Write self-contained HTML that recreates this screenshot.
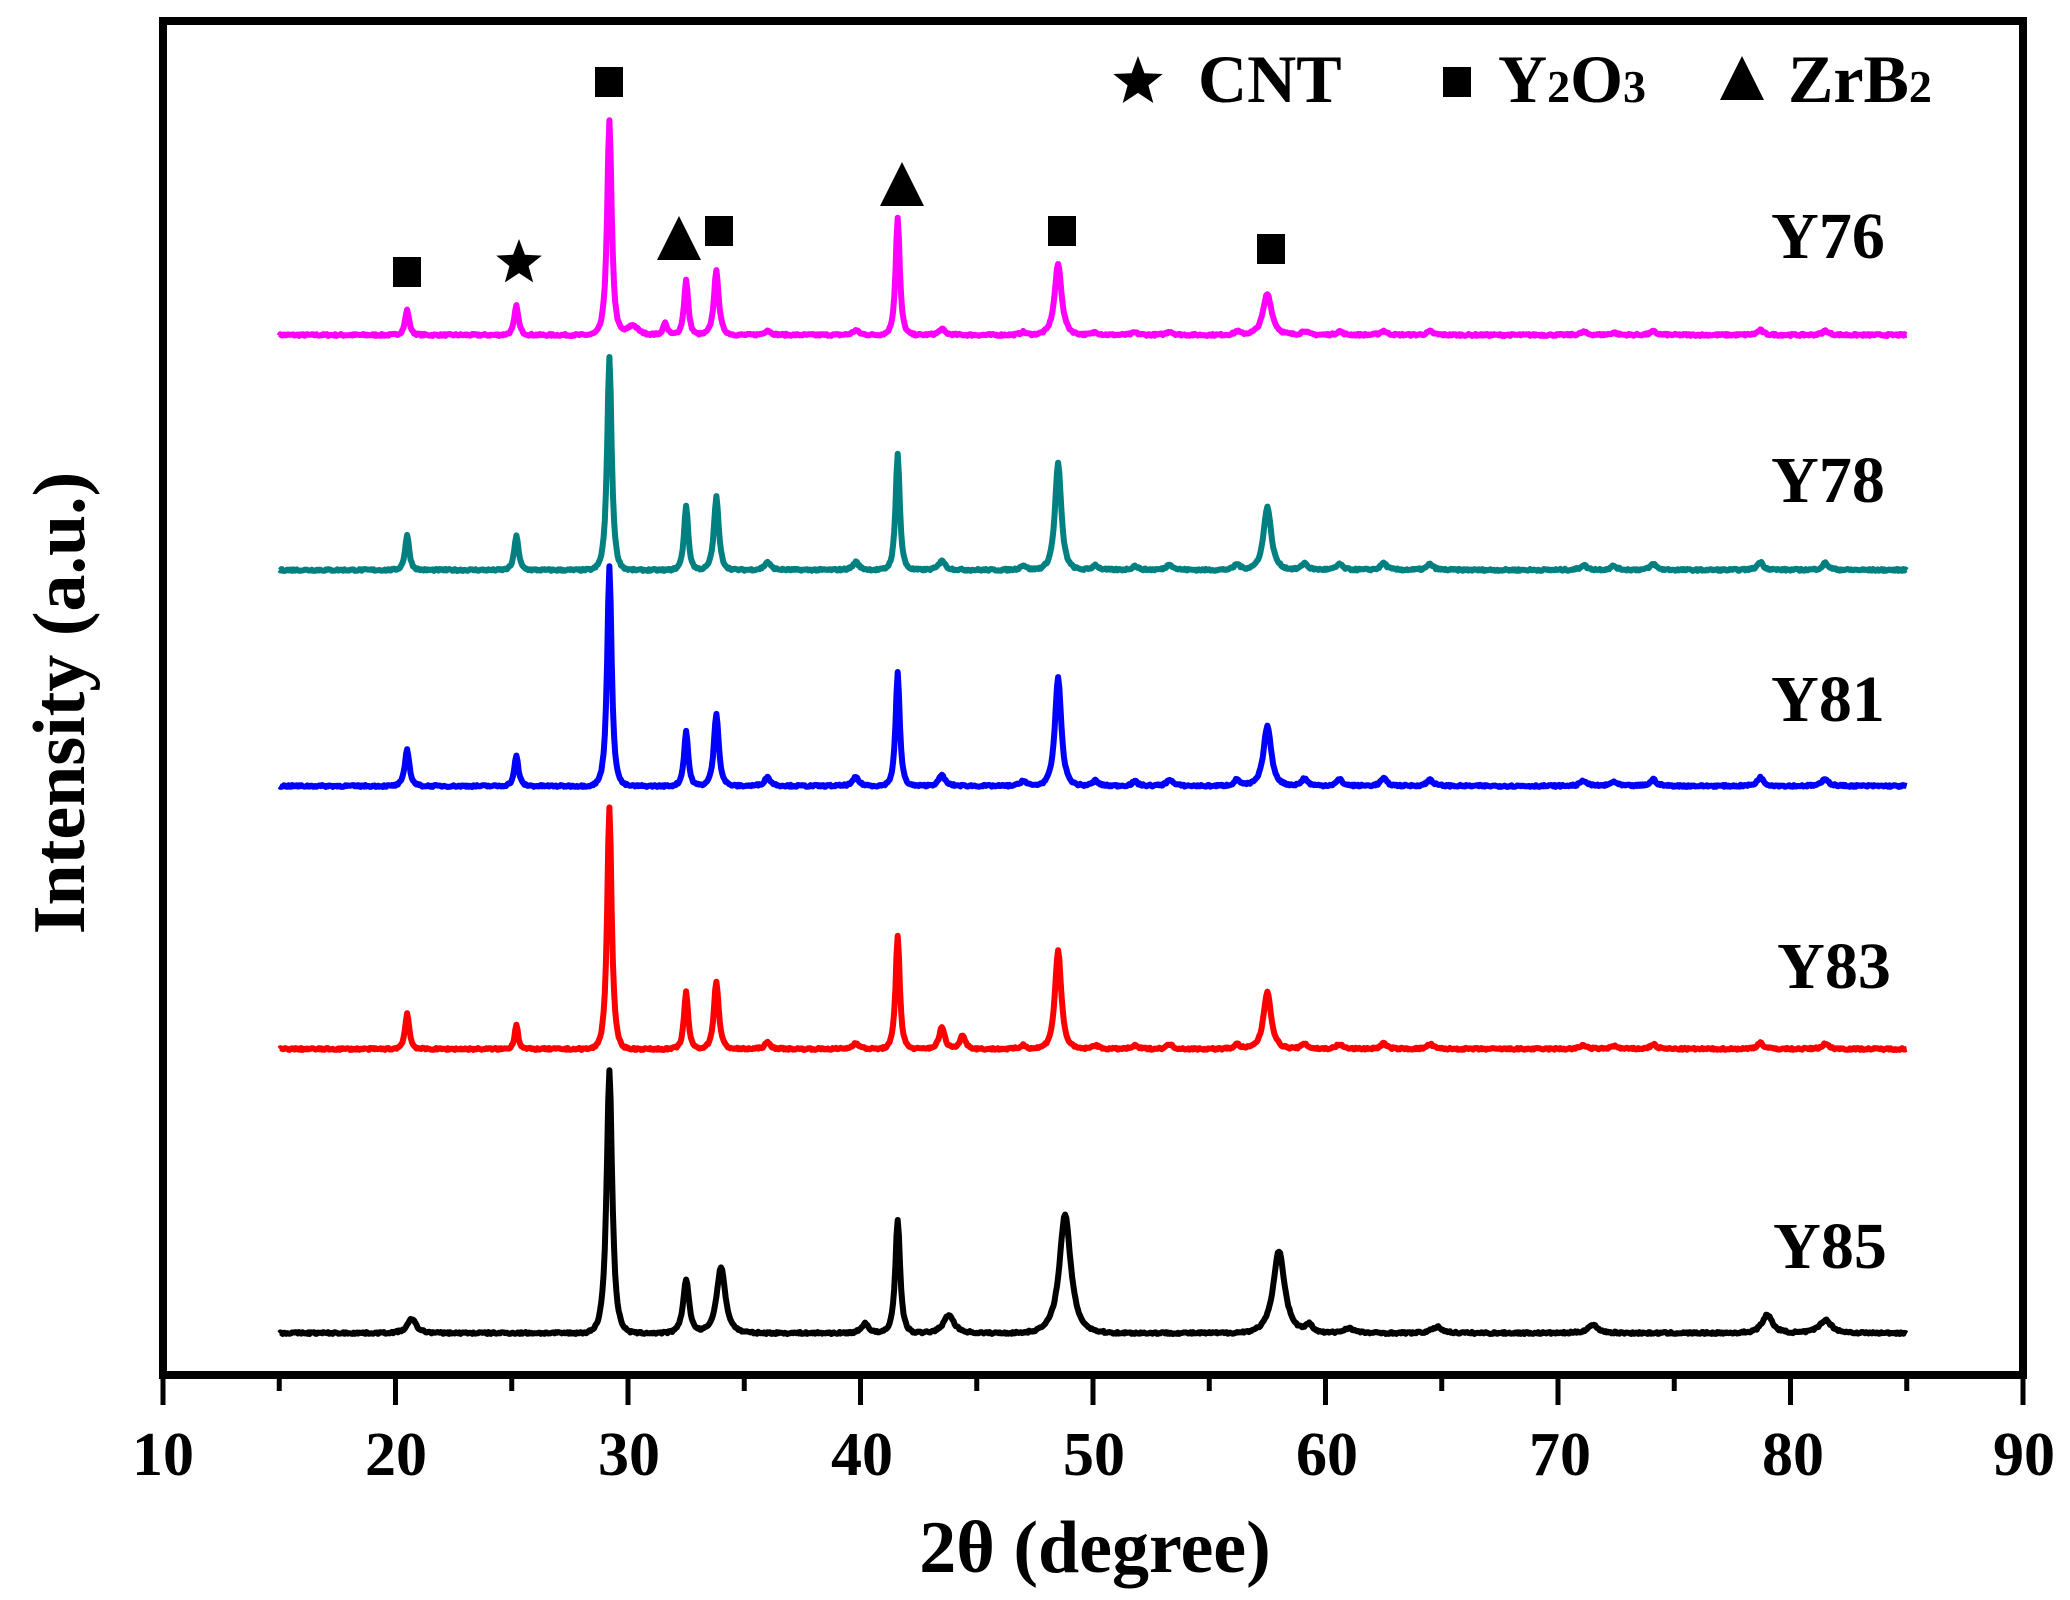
<!DOCTYPE html>
<html><head><meta charset="utf-8"><style>
html,body{margin:0;padding:0;background:#fff;width:2070px;height:1600px;overflow:hidden}
text{font-family:"Liberation Serif",serif;font-weight:bold;fill:#000}
</style></head><body>
<svg id="s" width="2070" height="1600" viewBox="0 0 2070 1600" xmlns="http://www.w3.org/2000/svg">
<rect x="163" y="21" width="1860" height="1354" fill="none" stroke="#000" stroke-width="8"/>
<g id="ticks" stroke="#000" stroke-width="5"></g>
<g font-size="62" text-anchor="middle">
<text x="163" y="1475">10</text><text x="396" y="1475">20</text><text x="629" y="1475">30</text><text x="862" y="1475">40</text><text x="1094" y="1475">50</text><text x="1327" y="1475">60</text><text x="1560" y="1475">70</text><text x="1793" y="1475">80</text><text x="2024" y="1475">90</text>
</g>
<text x="1095" y="1572" font-size="74" text-anchor="middle">2θ (degree)</text>
<text transform="translate(84,703) rotate(-90)" font-size="74" text-anchor="middle">Intensity (a.u.)</text>
<g id="curves" fill="none" stroke-width="6" stroke-linejoin="round"></g>
<g font-size="66" text-anchor="middle">
<text x="1828" y="258">Y76</text><text x="1828" y="502">Y78</text><text x="1828" y="721">Y81</text><text x="1834" y="988">Y83</text><text x="1830" y="1268">Y85</text>
</g>
<g font-size="68">
<text x="1198" y="102">CNT</text>
<text x="1498" y="102">Y<tspan font-size="46">2</tspan>O<tspan font-size="46">3</tspan></text>
<text x="1788" y="102">ZrB<tspan font-size="46">2</tspan></text>
</g>
<g id="marks" fill="#000"></g>
</svg>
<script>
var X=function(d){return 163+(d-10)*23.25;};
var t=document.getElementById('ticks'),h='';
for(var d=15;d<=85;d+=5){var x=X(d),L=(d%10==0)?30:16;h+='<line x1="'+x+'" y1="1375" x2="'+x+'" y2="'+(1375+L)+'"/>';}
h+='<line x1="163" y1="1375" x2="163" y2="1405"/><line x1="2023" y1="1375" x2="2023" y2="1405"/>';
t.innerHTML=h;
var seed=7;function rnd(){seed=(seed*16807)%2147483647;return seed/2147483647;}
var small=[[36,8],[39.8,8],[43.5,10],[47,5],[50.1,5],[51.8,4],[53.3,6],[56.2,6],[59.1,7],[60.6,6],[62.5,7],[64.5,6],[71.1,5],[72.4,4],[74.1,6],[78.7,8],[81.5,7]];
var S=[
 {c:'#ff00ff',b:335,p:[[20.5,25,.12],[25.2,29,.12],[29.2,214,.13],[30.2,10,.3],[31.6,12,.12],[32.5,55,.12],[33.8,64,.14],[41.6,117,.12],[48.5,71,.2],[57.5,41,.25]],sm:.6},
 {c:'#008080',b:570,p:[[20.5,35,.12],[25.2,35,.12],[29.2,213,.13],[32.5,65,.12],[33.8,73,.14],[41.6,117,.12],[48.5,107,.18],[57.5,63,.22]],sm:1},
 {c:'#0000ff',b:786,p:[[20.5,37,.13],[25.2,30,.12],[29.2,219,.13],[32.5,55,.12],[33.8,73,.14],[41.6,113,.12],[48.5,109,.18],[57.5,60,.22]],sm:1.1},
 {c:'#ff0000',b:1049,p:[[20.5,36,.12],[25.2,25,.1],[29.2,241,.13],[32.5,57,.12],[33.8,68,.14],[41.6,114,.12],[43.5,14,.15],[44.4,14,.15],[48.5,99,.18],[57.5,57,.22]],sm:.8},
 {c:'#000000',b:1333,p:[[20.7,14,.25],[29.2,262,.16],[32.5,54,.17],[34,66,.25],[40.2,10,.2],[41.6,113,.14],[43.8,18,.3],[48.8,118,.33],[58,82,.33],[59.3,8,.2],[61,5,.3],[64.8,6,.3],[71.5,8,.3],[79,18,.3],[81.5,13,.35]],sm:0}
];
var g=document.getElementById('curves'),out='';
S.forEach(function(s){var pts=[];for(var d=15;d<=85.001;d+=0.05){var y=0;s.p.forEach(function(q){var u=(d-q[0])/q[2];y+=q[1]/(1+u*u*1.2)*Math.exp(-u*u*0.05);});
 small.forEach(function(q){var u=(d-q[0])/0.15;y+=s.sm*q[1]/(1+u*u);});
 y+=(rnd()-0.5)*2;
 pts.push(X(d).toFixed(1)+','+(s.b-y).toFixed(1));}
 out+='<polyline stroke="'+s.c+'" points="'+pts.join(' ')+'"/>';});
g.innerHTML=out;
function sq(x,y){return '<rect x="'+(x-14)+'" y="'+(y-15)+'" width="28" height="30"/>';}
function tri(x,y){return '<polygon points="'+x+','+(y-24)+' '+(x-22)+','+(y+20)+' '+(x+22)+','+(y+20)+'"/>';}
function star(x,y,r){var p=[];for(var i=0;i<10;i++){var a=-Math.PI/2+i*Math.PI/5,R=i%2?r*0.42:r;p.push((x+R*Math.cos(a)).toFixed(1)+','+(y+R*Math.sin(a)).toFixed(1));}return '<polygon points="'+p.join(' ')+'"/>';}
document.getElementById('marks').innerHTML=sq(407,272)+star(519,263,24)+sq(609,82)+tri(679,240)+sq(719,231)+tri(902,186)+sq(1062,231)+sq(1271,249)+star(1138,82,26)+sq(1457,82)+tri(1742,80);
</script>
</body></html>
